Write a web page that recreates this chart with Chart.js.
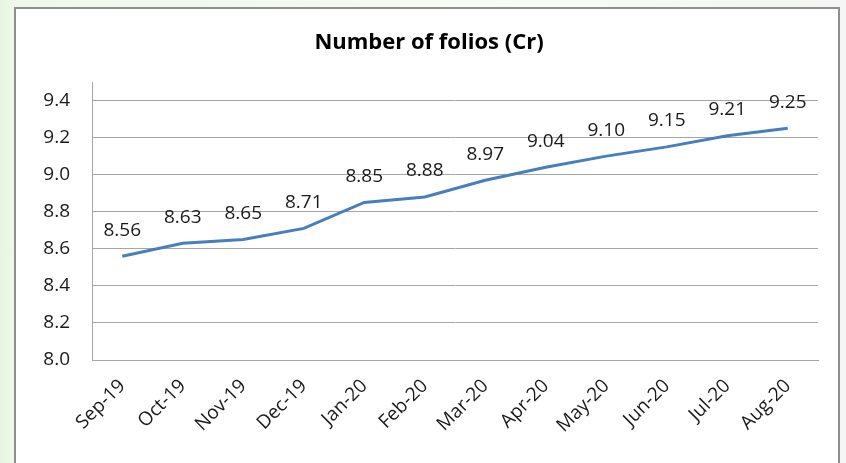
<!DOCTYPE html>
<html>
<head>
<meta charset="utf-8">
<script src="https://cdn.jsdelivr.net/npm/chart.js@4"></script>
<style>
  html, body { margin: 0; padding: 0; }
  body {
    width: 846px; height: 463px; overflow: hidden;
    background: linear-gradient(to right, #e6f6e1 0px, #eef8ea 15px, #f7fbf5 60%, #f4f5f4 100%);
    position: relative;
  }
  #box {
    position: absolute; left: 14px; top: 7px; width: 826px; height: 470px;
    background: #fff; border: 2px solid #8e8e8e; box-sizing: border-box;
  }
  #wrap { position: absolute; left: 0; top: 0; width: 846px; height: 463px; }
</style>
</head>
<body>
<div id="box"></div>
<div id="wrap"><canvas id="lineChart" width="846" height="463"></canvas></div>
<script>
// data for number of folios
const months = ['Sep-19','Oct-19','Nov-19','Dec-19','Jan-20','Feb-20','Mar-20','Apr-20','May-20','Jun-20','Jul-20','Aug-20'];
const folios = [8.56, 8.63, 8.65, 8.71, 8.85, 8.88, 8.97, 9.04, 9.10, 9.15, 9.21, 9.25];
const yTicks = [8.0, 8.2, 8.4, 8.6, 8.8, 9.0, 9.2, 9.4];

const font = "'Open Sans', 'DejaVu Sans', sans-serif";

// value labels above each point
const valueLabels = {
  id: 'valueLabels',
  afterDatasetsDraw(chart) {
    const ctx = chart.ctx;
    const meta = chart.getDatasetMeta(0);
    ctx.save();
    ctx.font = '19px ' + font;
    ctx.fillStyle = '#1a1a1a';
    ctx.textAlign = 'center';
    ctx.textBaseline = 'middle';
    meta.data.forEach((pt, i) => {
      ctx.fillText(folios[i].toFixed(2), pt.x, pt.y - 26);
    });
    ctx.restore();
  }
};

const data = {
  labels: months,
  datasets: [{
    label: 'Number of folios (Cr)',
    data: folios,
    borderColor: '#4a7ebb',
    backgroundColor: '#4a7ebb',
    borderWidth: 3,
    pointRadius: 0,
    tension: 0
  }]
};

const config = {
  type: 'line',
  data: data,
  options: {
    responsive: false,
    animation: false,
    layout: { padding: { left: 40, right: 28, top: 30, bottom: 0 } },
    plugins: {
      legend: { display: false },
      tooltip: { enabled: false },
      title: {
        display: true,
        text: 'Number of folios (Cr)',
        color: '#000',
        font: { family: font, size: 22, weight: 'bold' },
        padding: { top: 0, bottom: 25.6 }
      }
    },
    scales: {
      x: {
        offset: true,
        afterFit(axis) { axis.height = 103; },
        grid: { display: false, drawTicks: false },
        border: { color: '#a6a6a6', width: 1 },
        ticks: {
          color: '#1a1a1a',
          font: { family: font, size: 19 },
          maxRotation: 45, minRotation: 45,
          padding: 15
        }
      },
      y: {
        min: 8.0, max: 9.5,
        afterBuildTicks(axis) {
          axis.ticks = yTicks.map(v => ({ value: v }));
        },
        afterFit(axis) { axis.width = 52; },
        grid: { color: '#a6a6a6', lineWidth: 1, drawTicks: false },
        border: { color: '#a6a6a6', width: 1 },
        ticks: {
          color: '#1a1a1a',
          font: { family: font, size: 19 },
          padding: 22,
          callback: v => Number(v).toFixed(1)
        }
      }
    }
  },
  plugins: [valueLabels]
};

const lineChart = new Chart(document.getElementById('lineChart'), config);
</script>
</body>
</html>
